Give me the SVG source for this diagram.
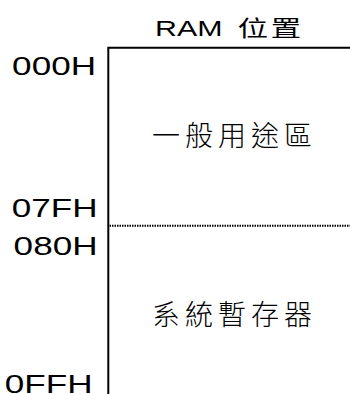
<svg xmlns="http://www.w3.org/2000/svg" width="350" height="394" viewBox="0 0 350 394">
<style>
.addr{font-family:"Liberation Sans","Noto Sans CJK TC",sans-serif;font-size:26px;fill:#000;text-anchor:end}
.title{font-family:"Liberation Sans","Noto Sans CJK TC",sans-serif;font-size:22px;fill:#000}
.area{font-family:"Noto Sans CJK TC","Noto Sans CJK SC",sans-serif;font-size:28px;font-weight:300;fill:#000;letter-spacing:5px}
.wall{stroke:#000;stroke-width:2;fill:none}
.split{stroke:#000;stroke-width:2;stroke-dasharray:1.5 1;fill:none}
</style>
<rect width="350" height="394" fill="#fff"/>
<g id="title">
<text class="title" transform="translate(155,36) scale(1.38,1)">RAM <tspan dx="5" letter-spacing="2">位置</tspan></text>
</g>
<g id="connectors">
<path class="wall" d="M108.3,394 V47.7 H350"/>
<path class="split" d="M109.5,225.8 H350"/>
</g>
<g id="addr-000H"><text class="addr" transform="translate(96,75) scale(1.35,1)">000H</text></g>
<g id="addr-07FH"><text class="addr" transform="translate(97.5,216.5) scale(1.35,1)">07FH</text></g>
<g id="addr-080H"><text class="addr" transform="translate(97.5,255) scale(1.35,1)">080H</text></g>
<g id="addr-0FFH"><text class="addr" transform="translate(92.5,392.5) scale(1.35,1)">0FFH</text></g>
<g id="area-general"><text class="area" x="152" y="146">一般用途區</text></g>
<g id="area-system"><text class="area" x="152" y="325">系統暫存器</text></g>
</svg>
